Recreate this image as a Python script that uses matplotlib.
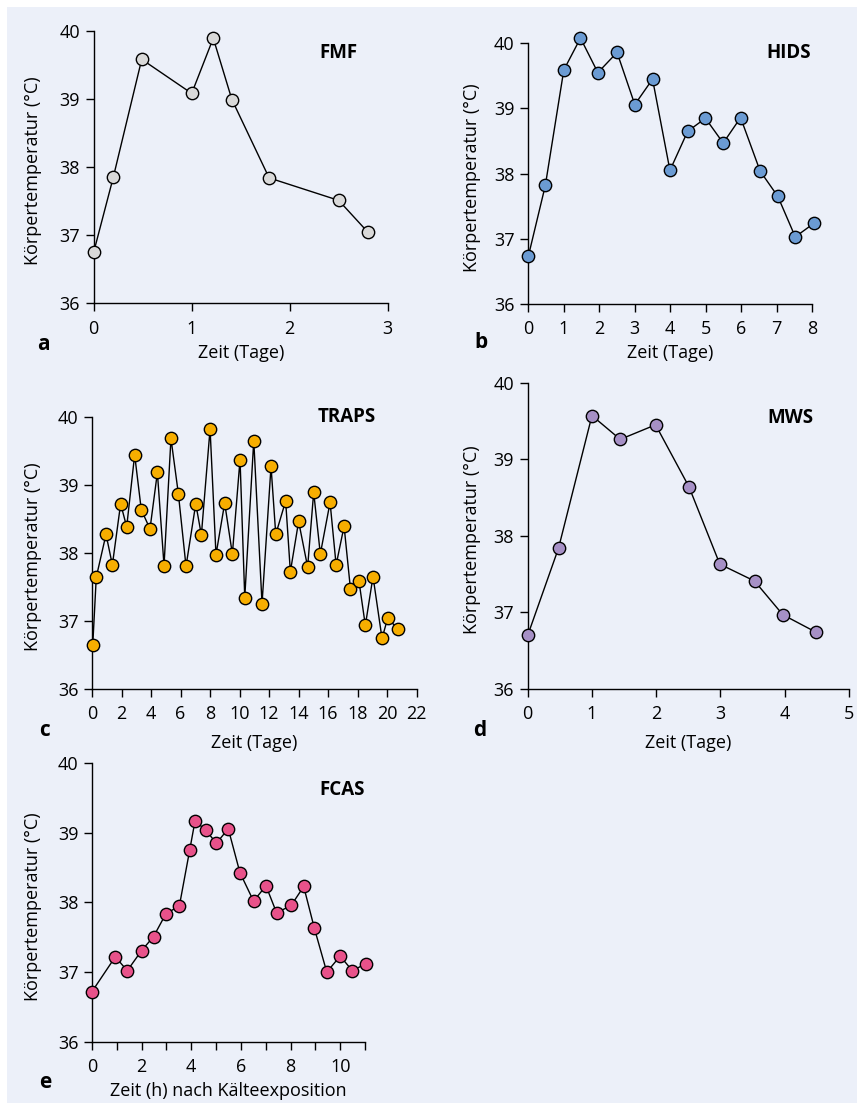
import matplotlib
matplotlib.use("Agg")
import matplotlib.pyplot as plt
from matplotlib.patches import Rectangle

plt.rcParams['font.family'] = ['Open Sans', 'DejaVu Sans']

# ---------------- data ----------------
fmf_x = [0.0, 0.2, 0.49, 1.0, 1.22, 1.41, 1.79, 2.5, 2.8]
fmf_y = [36.75, 37.85, 39.58, 39.08, 39.89, 38.99, 37.84, 37.51, 37.04]

hids_x = [0.0, 0.48, 1.0, 1.47, 1.96, 2.5, 3.0, 3.5, 3.99, 4.49, 4.99, 5.49, 5.98, 6.53, 7.03, 7.52, 8.05]
hids_y = [36.73, 37.82, 39.59, 40.08, 39.55, 39.86, 39.06, 39.45, 38.05, 38.65, 38.85, 38.47, 38.86,
          38.04, 37.65, 37.03, 37.24]

traps_x = [0.05, 0.29, 0.95, 1.38, 1.94, 2.35, 2.89, 3.34, 3.93, 4.43, 4.88, 5.35, 5.85, 6.37, 7.03,
           7.41, 8.0, 8.4, 8.99, 9.51, 10.03, 10.35, 10.96, 11.52, 12.13, 12.45, 13.12, 13.44, 14.0,
           14.61, 15.02, 15.47, 16.13, 16.54, 17.08, 17.51, 18.09, 18.52, 19.04, 19.65, 20.04, 20.71]
traps_y = [36.64, 37.64, 38.27, 37.82, 38.72, 38.38, 39.44, 38.63, 38.35, 39.18, 37.81, 39.68, 38.87,
           37.80, 38.72, 38.26, 39.82, 37.97, 38.73, 37.98, 39.37, 37.34, 39.65, 37.25, 39.27, 38.27,
           38.76, 37.72, 38.46, 37.79, 38.89, 37.98, 38.74, 37.82, 38.39, 37.47, 37.58, 36.93, 37.65,
           36.74, 37.04, 36.88]

mws_x = [0.0, 0.48, 1.0, 1.44, 1.99, 2.51, 2.99, 3.53, 3.97, 4.49]
mws_y = [36.70, 37.84, 39.57, 39.26, 39.45, 38.64, 37.63, 37.41, 36.97, 36.74]

fcas_x = [0.0, 0.94, 1.42, 2.0, 2.48, 2.98, 3.52, 3.94, 4.15, 4.59, 5.01, 5.49, 5.96, 6.51, 7.01,
          7.44, 8.03, 8.53, 8.96, 9.46, 10.0, 10.49, 11.03]
fcas_y = [36.72, 37.22, 37.02, 37.31, 37.51, 37.84, 37.95, 38.76, 39.17, 39.04, 38.85, 39.06, 38.43,
          38.02, 38.24, 37.85, 37.96, 38.23, 37.63, 37.00, 37.23, 37.02, 37.12]

y_ticks = [36, 37, 38, 39, 40]
ylabel = "Körpertemperatur (°C)"
xlabel_days = "Zeit (Tage)"
xlabel_h = "Zeit (h) nach Kälteexposition"

# ---------------- figure ----------------
W, H = 858, 1104
fig = plt.figure(figsize=(W / 100, H / 100), dpi=100, facecolor='white')
BG = '#ecf0f9'
fig.patches.append(Rectangle((7 / W, 1 - 1103 / H), (857 - 7) / W, (1103 - 7) / H,
                             transform=fig.transFigure, facecolor=BG, edgecolor='none', zorder=-10))

FS = 13


def px_rect(l, r, t, b):
    return [l / W, 1 - b / H, (r - l) / W, (b - t) / H]


def fx(x):
    return x / W


def fy(y):
    return 1 - y / H


def panel(rect, xs, ys, color, xlim, xticks, xticklabels, title, title_pos, letter, letter_pos,
          xlabel, xlabel_pos, ylabel_x):
    ax = fig.add_axes(px_rect(*rect))
    ax.set_facecolor('none')
    ax.plot(xs, ys, color='black', lw=1.0, marker='o', ms=8.9, mfc=color, mec='black', mew=1.0,
            clip_on=False, zorder=3)
    ax.set_xlim(*xlim)
    ax.set_ylim(36, 40)
    ax.set_yticks(y_ticks)
    ax.set_yticklabels([str(t) for t in y_ticks])
    ax.set_xticks(xticks)
    ax.set_xticklabels(xticklabels)
    for s in ['top', 'right']:
        ax.spines[s].set_visible(False)
    for s in ['left', 'bottom']:
        ax.spines[s].set_linewidth(1.0)
    ax.tick_params(direction='out', length=5.8, width=1.0, labelsize=FS, colors='black')
    ax.tick_params(axis='x', pad=6)
    ax.tick_params(axis='y', pad=4)
    l, r, t, b = rect
    fig.text(fx(title_pos[0]), fy(title_pos[1]), title, ha='center', va='center',
             fontsize=13.5, fontweight='bold')
    fig.text(fx(letter_pos[0]), fy(letter_pos[1]), letter, ha='center', va='center',
             fontsize=15, fontweight='bold')
    fig.text(fx(xlabel_pos[0]), fy(xlabel_pos[1]), xlabel, ha='center', va='center', fontsize=FS)
    fig.text(fx(ylabel_x), fy((t + b) / 2 + 4), ylabel, ha='center', va='center', rotation=90,
             fontsize=FS)
    return ax


# a  FMF
panel((93.7, 387.7, 30.7, 303.3), fmf_x, fmf_y, '#d9d9d9', (0, 3), [0, 1, 2, 3],
      ['0', '1', '2', '3'], 'FMF', (338, 53), 'a', (43, 344), xlabel_days, (241, 353), 33)

# b  HIDS
panel((528.3, 812.3, 43.3, 304.0), hids_x, hids_y, '#6b9bd3', (0, 8), list(range(0, 9)),
      [str(i) for i in range(0, 9)], 'HIDS', (789, 53), 'b', (481, 343), xlabel_days, (670, 353), 472)

# c  TRAPS
panel((92.0, 416.7, 416.7, 688.7), traps_x, traps_y, '#f7ae00', (0, 22), list(range(0, 23, 2)),
      [str(i) for i in range(0, 23, 2)], 'TRAPS', (347, 417), 'c', (45, 731), xlabel_days, (254, 743), 33)

# d  MWS
panel((527.7, 849.0, 382.7, 689.0), mws_x, mws_y, '#a690c6', (0, 5), [0, 1, 2, 3, 4, 5],
      [str(i) for i in range(0, 6)], 'MWS', (790, 418), 'd', (480, 731), xlabel_days, (688, 743), 472)

# e  FCAS
panel((92.0, 365.0, 763.3, 1041.7), fcas_x, fcas_y, '#e8528a', (0, 11), list(range(0, 12)),
      [str(i) if i % 2 == 0 else '' for i in range(0, 12)], 'FCAS', (342, 790), 'e', (45, 1082),
      xlabel_h, (228, 1091), 33)

fig.savefig('out.png', dpi=100, facecolor='white')
